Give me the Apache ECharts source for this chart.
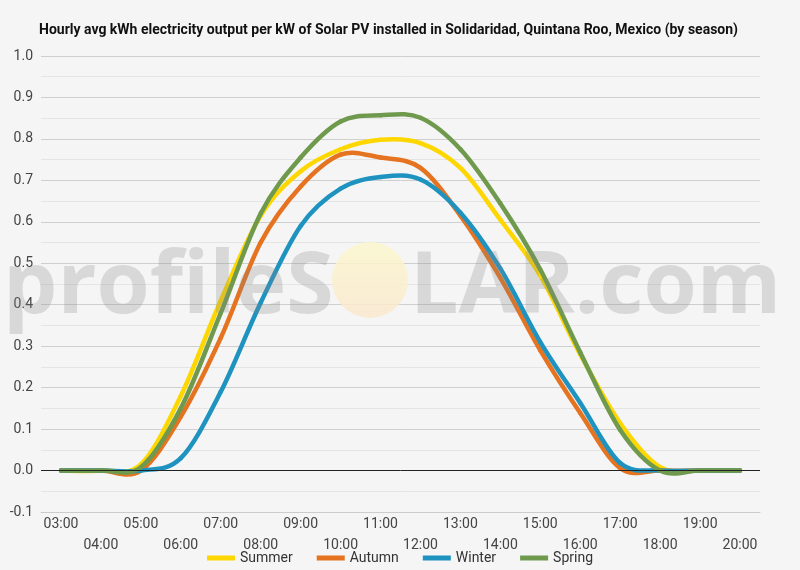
<!DOCTYPE html>
<html>
<head>
    <meta charset="utf-8">
    <title>Solar PV output by season</title>
    <script src="https://cdn.jsdelivr.net/npm/echarts@6/dist/echarts.min.js"></script>
    <style>
        html, body { margin: 0; padding: 0; background: #f5f5f5; }
    </style>
</head>
<body>
<div id="main" style="width: 800px;height:570px;"></div>
<script type="text/javascript">

    var hours = ['03:00', '04:00', '05:00', '06:00', '07:00', '08:00', '09:00', '10:00', '11:00',
                 '12:00', '13:00', '14:00', '15:00', '16:00', '17:00', '18:00', '19:00', '20:00'];

    var summer = [0, 0, 0.015, 0.18, 0.41, 0.615, 0.722, 0.775, 0.798, 0.79, 0.73, 0.605, 0.47, 0.28, 0.114, 0.008, 0, 0];
    var autumn = [0, 0, 0, 0.13, 0.32, 0.55, 0.685, 0.762, 0.755, 0.73, 0.615, 0.465, 0.29, 0.139, 0.006, 0, 0, 0];
    var winter = [0, 0, 0, 0.03, 0.19, 0.405, 0.59, 0.68, 0.708, 0.702, 0.622, 0.487, 0.31, 0.163, 0.018, 0, 0, 0];
    var spring = [0, 0, 0.008, 0.15, 0.38, 0.62, 0.755, 0.842, 0.857, 0.851, 0.775, 0.644, 0.485, 0.285, 0.098, 0, 0, 0];

    var seasonNames = ['Summer', 'Autumn', 'Winter', 'Spring'];
    var seasonColors = ['#fed700', '#e5731f', '#1f93c0', '#6f9a4e'];
    var seasonValues = [summer, autumn, winter, spring];

    var yTicks = { min: -0.1, max: 1.0, step: 0.1 };

    // spreadsheet-style smoothed line: each item draws the bezier segment to the next hour
    function smoothSegment(vals, color) {
        return function (params, api) {
            var i = params.dataIndex;
            var n = vals.length;
            if (i >= n - 1) return null;
            var p0 = api.coord([Math.max(i - 1, 0), vals[Math.max(i - 1, 0)]]);
            var p1 = api.coord([i, vals[i]]);
            var p2 = api.coord([i + 1, vals[i + 1]]);
            var p3 = api.coord([Math.min(i + 2, n - 1), vals[Math.min(i + 2, n - 1)]]);
            return {
                type: 'bezierCurve',
                shape: {
                    x1: p1[0], y1: p1[1],
                    cpx1: p1[0] + (p2[0] - p0[0]) / 6, cpy1: p1[1] + (p2[1] - p0[1]) / 6,
                    cpx2: p2[0] - (p3[0] - p1[0]) / 6, cpy2: p2[1] - (p3[1] - p1[1]) / 6,
                    x2: p2[0], y2: p2[1]
                },
                style: { stroke: color, lineWidth: 4.5, fill: null, lineCap: 'round' }
            };
        };
    }

    var series = seasonValues.map(function (vals, i) {
        return {
            name: seasonNames[i],
            type: 'custom',
            renderItem: smoothSegment(vals, seasonColors[i]),
            data: vals.map(function (v, k) { return [k, v]; }),
            encode: { x: 0, y: 1 },
            itemStyle: { color: seasonColors[i] },
            z: 3
        };
    });

    // zero line
    series.push({
        name: 'zero',
        type: 'line',
        data: [],
        silent: true,
        z: 2,
        markLine: {
            silent: true,
            symbol: 'none',
            label: { show: false },
            lineStyle: { color: '#222', width: 1, type: 'solid' },
            data: [{ yAxis: 0 }]
        }
    });

    var chart = echarts.init(document.getElementById('main'));

    var option = {
        backgroundColor: '#f5f5f5',
        textStyle: { fontFamily: 'Roboto' },
        animation: false,
        title: {
            text: 'Hourly avg kWh electricity output per kW of Solar PV installed in Solidaridad, Quintana Roo, Mexico (by season)',
            left: 34,
            top: 18,
            textStyle: { fontSize: 14, fontWeight: 'bold', color: '#111', fontFamily: 'Roboto' }
        },
        legend: {
            bottom: 0,
            left: 'center',
            icon: 'rect',
            itemWidth: 28,
            itemHeight: 5,
            itemGap: 24,
            textStyle: { fontSize: 14, color: '#333', fontFamily: 'Roboto' },
            data: seasonNames
        },
        grid: { left: 41, right: 40, top: 56, bottom: 58 },
        xAxis: {
            type: 'category',
            data: hours,
            boundaryGap: true,
            axisLine: { onZero: false, lineStyle: { color: '#cccccc' } },
            axisTick: { show: false },
            axisLabel: {
                interval: 0,
                margin: 2,
                fontSize: 14,
                color: '#444',
                lineHeight: 21,
                formatter: function (v, idx) { return idx % 2 ? '\n' + v : v; }
            }
        },
        yAxis: {
            type: 'value',
            min: yTicks.min,
            max: yTicks.max,
            interval: yTicks.step,
            axisLine: { show: false },
            axisTick: { show: false },
            axisLabel: {
                fontSize: 14,
                color: '#444',
                margin: 8,
                formatter: function (v) { return v.toFixed(1); }
            },
            splitLine: { lineStyle: { color: '#cfcfcf' } },
            minorTick: { show: false, splitNumber: 2 },
            minorSplitLine: { show: true, lineStyle: { color: '#e4e4e4' } }
        },
        graphic: [
            {
                type: 'text', left: 3, top: 245, z: 10, silent: true,
                style: { text: 'profileS', font: 'bold 86px "Open Sans"', fill: 'rgba(130,130,130,0.25)' }
            },
            {
                type: 'circle', z: 9, silent: true,
                shape: { cx: 370, cy: 280, r: 38 },
                style: {
                    fill: new echarts.graphic.LinearGradient(0, 0, 0, 1, [
                        { offset: 0, color: 'rgba(251,247,205,0.85)' },
                        { offset: 1, color: 'rgba(250,232,205,0.85)' }
                    ])
                }
            },
            {
                type: 'text', left: 410, top: 245, z: 10, silent: true,
                style: { text: 'LAR.com', font: 'bold 86px "Open Sans"', fill: 'rgba(130,130,130,0.25)' }
            }
        ],
        series: series
    };

    chart.setOption(option);

</script>
</body>
</html>
